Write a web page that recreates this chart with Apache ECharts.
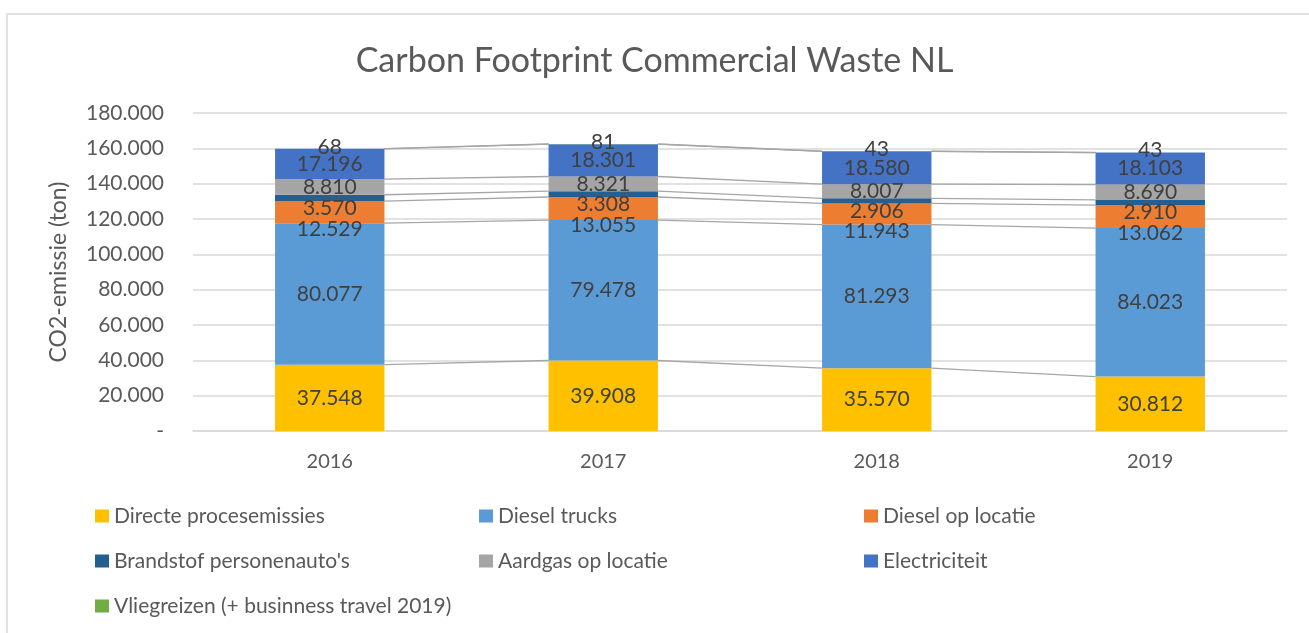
<!DOCTYPE html>
<html>
<head>
<meta charset="utf-8">
<script src="https://cdn.jsdelivr.net/npm/echarts@6/dist/echarts.min.js"></script>
<style>
  html, body { margin: 0; padding: 0; background: #fff; }
  #chart { width: 1309px; height: 633px; }
</style>
</head>
<body>
<div id="chart"></div>
<script>
// Chart data
var years = ['2016', '2017', '2018', '2019'];
var seriesNames = [
	'Directe procesemissies',
	'Diesel trucks',
	'Diesel op locatie',
	"Brandstof personenauto's",
	'Aardgas op locatie',
	'Electriciteit',
	'Vliegreizen (+ businness travel 2019)'
];
var directe = [37548, 39908, 35570, 30812];
var dieselTrucks = [80077, 79478, 81293, 84023];
var dieselLocatie = [12529, 13055, 11943, 13062];
var brandstof = [3570, 3308, 2906, 2910];
var aardgas = [8810, 8321, 8007, 8690];
var electriciteit = [17196, 18301, 18580, 18103];
var vliegreizen = [68, 81, 43, 43];
var yTicks = [0, 20000, 40000, 60000, 80000, 100000, 120000, 140000, 160000, 180000];

var seriesValues = [directe, dieselTrucks, dieselLocatie, brandstof, aardgas, electriciteit, vliegreizen];
var colors = ['#FFC000', '#5B9BD5', '#ED7D31', '#255E91', '#A5A5A5', '#4472C4', '#70AD47'];
// label nudges like Excel's overlap shuffling
var labelOffsets = [[0, 0], [0, 0], [0, 17], [0, 10], [0, 0], [0, 0], [0, -2]];

var FONT = 'Lato, "Open Sans", sans-serif';
var BAR_FRAC = 0.4;

function nl(v) {
	return String(Math.round(v)).replace(/\B(?=(\d{3})+(?!\d))/g, '.');
}

// cumulative tops of each segment, for the series lines
var cum = [];
var running = years.map(function() { return 0; });
seriesValues.forEach(function(vals) {
	running = running.map(function(r, i) { return r + vals[i]; });
	cum.push(running.slice());
});
var lineData = [];
cum.forEach(function(level) {
	for (var i = 0; i < years.length - 1; i++) {
		lineData.push([i, level[i], level[i + 1]]);
	}
});

var series = seriesValues.map(function(vals, s) {
	return {
		name: seriesNames[s],
		type: 'bar',
		stack: 'total',
		barCategoryGap: '60%',
		data: vals,
		itemStyle: { color: colors[s] },
		label: {
			show: true,
			position: 'inside',
			offset: labelOffsets[s],
			color: '#404040',
			fontFamily: FONT,
			fontSize: 21,
			formatter: function(p) { return nl(p.value); }
		}
	};
});

series.push({
	name: 'serieslines',
	type: 'custom',
	silent: true,
	encode: { x: 0, y: 1 },
	data: lineData,
	z: 1,
	renderItem: function(params, api) {
		var i = api.value(0);
		var p1 = api.coord([i, api.value(1)]);
		var p2 = api.coord([i + 1, api.value(2)]);
		var half = api.size([1, 0])[0] * BAR_FRAC / 2;
		return {
			type: 'line',
			shape: { x1: p1[0] + half, y1: p1[1], x2: p2[0] - half, y2: p2[1] },
			style: { stroke: '#a6a6a6', lineWidth: 1.3 }
		};
	}
});

// one legend per item so the three columns line up like Excel's
var legendCols = [95, 479, 864];
var legendRows = [505, 550, 595];
var legendSlots = [[0, 0], [1, 0], [2, 0], [0, 1], [1, 1], [2, 1], [0, 2]];
var legends = seriesNames.map(function(name, s) {
	return {
		orient: 'horizontal',
		left: legendCols[legendSlots[s][0]],
		top: legendRows[legendSlots[s][1]],
		padding: 0,
		itemWidth: 14,
		itemHeight: 13,
		icon: 'rect',
		data: [name],
		textStyle: { color: '#595959', fontFamily: FONT, fontSize: 21, lineHeight: 22 }
	};
});

var chart = echarts.init(document.getElementById('chart'));
chart.setOption({
	animation: false,
	textStyle: { fontFamily: FONT },
	title: {
		text: 'Carbon Footprint Commercial Waste NL',
		left: 'center',
		top: 39,
		textStyle: { color: '#595959', fontFamily: FONT, fontSize: 34, fontWeight: 'normal' }
	},
	graphic: [{
		type: 'rect',
		shape: { x: 7, y: 14, width: 1400, height: 700 },
		style: { fill: 'none', stroke: '#d9d9d9', lineWidth: 1.5 },
		silent: true
	}],
	legend: legends,
	grid: { left: 193, right: 22, top: 113, bottom: 202 },
	xAxis: {
		type: 'category',
		data: years,
		axisTick: { show: false },
		axisLine: { lineStyle: { color: '#d9d9d9', width: 1.5 } },
		axisLabel: { color: '#595959', fontFamily: FONT, fontSize: 20, margin: 21 }
	},
	yAxis: {
		type: 'value',
		min: yTicks[0],
		max: yTicks[yTicks.length - 1],
		interval: yTicks[1] - yTicks[0],
		name: 'CO2-emissie (ton)',
		nameLocation: 'middle',
		nameGap: 123,
		nameTextStyle: { color: '#595959', fontFamily: FONT, fontSize: 23 },
		axisLine: { show: false },
		axisTick: { show: false },
		splitLine: { lineStyle: { color: '#d9d9d9', width: 1.5 } },
		axisLabel: {
			color: '#595959', fontFamily: FONT, fontSize: 21, margin: 29,
			formatter: function(v) { return v === 0 ? '-' : nl(v); }
		}
	},
	series: series
});
</script>
</body>
</html>
